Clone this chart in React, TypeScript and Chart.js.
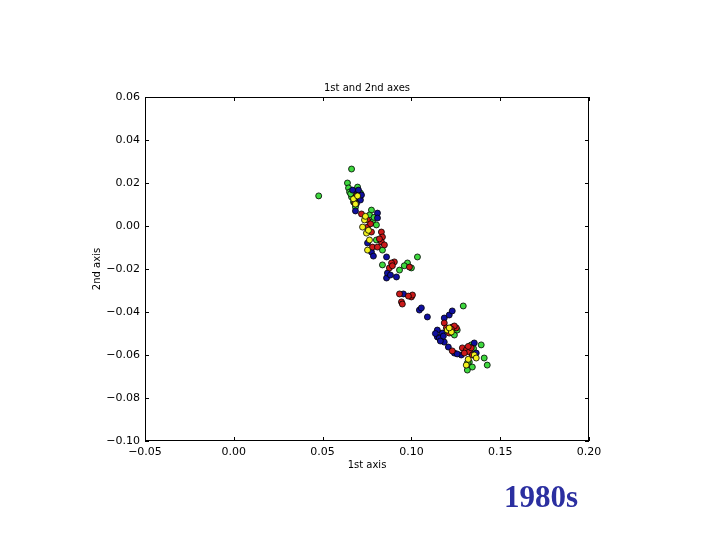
import React, { useEffect, useRef } from "react";
import { Chart, registerables } from "chart.js";

Chart.register(...registerables);

const chartTitle = "1st and 2nd axes";
const xAxisTitle = "1st axis";
const yAxisTitle = "2nd axis";
const decadeLabel = "1980s";

const xMin = -0.05;
const xMax = 0.2;
const xStep = 0.05;
const yMin = -0.1;
const yMax = 0.06;
const yStep = 0.02;

const blueSeries: [number, number][] = [
  [0.0669, 0.0167], [0.0697, 0.0153], [0.0708, 0.013], [0.0713, 0.0121], [0.0685, 0.007],
  [0.0702, 0.0167], [0.0719, 0.0144], [0.0691, 0.0105],
  [0.0809, 0.006], [0.0809, 0.0037], [0.0753, -0.0079], [0.0775, -0.0121], [0.0786, -0.014],
  [0.086, -0.0144], [0.0916, -0.0237], [0.086, -0.0242], [0.0865, -0.0219], [0.0882, -0.0228],
  [0.0955, -0.0316], [0.1045, -0.0391], [0.1056, -0.0381], [0.109, -0.0423], [0.1185, -0.0428],
  [0.1213, -0.0414], [0.123, -0.0395], [0.1146, -0.0516], [0.1157, -0.0521], [0.1174, -0.0498],
  [0.1146, -0.0484], [0.1185, -0.054], [0.1163, -0.0535], [0.118, -0.0512], [0.1135, -0.05],
  [0.1208, -0.0563], [0.1242, -0.0591], [0.1354, -0.0544], [0.1281, -0.06], [0.1365, -0.0591],
  [0.1258, -0.0595],
];

const redSeries: [number, number][] = [
  [0.0691, 0.014], [0.068, 0.0107],
  [0.0719, 0.0056], [0.0753, 0.0028], [0.0753, -0.0005], [0.0775, -0.0028], [0.0831, -0.0028],
  [0.0837, -0.0051], [0.0831, -0.0074], [0.0848, -0.0088], [0.0781, -0.0098], [0.0809, -0.0098],
  [0.082, -0.006], [0.077, 0.001],
  [0.0876, -0.0195], [0.0904, -0.0167], [0.0989, -0.0191], [0.0888, -0.0172], [0.0893, -0.0185],
  [0.0933, -0.0316], [0.1, -0.033], [0.1006, -0.0321], [0.0944, -0.0353], [0.0949, -0.0363],
  [0.0983, -0.0326],
  [0.1185, -0.0451], [0.1197, -0.0474], [0.123, -0.047], [0.1253, -0.0474], [0.1213, -0.0498],
  [0.1242, -0.0465], [0.1225, -0.048],
  [0.123, -0.0581], [0.1287, -0.0567], [0.1309, -0.0577], [0.1326, -0.0586], [0.1298, -0.0591],
  [0.1337, -0.0567], [0.1343, -0.06], [0.132, -0.056],
];

const yellowSeries: [number, number][] = [
  [0.0674, 0.0126], [0.0685, 0.0102], [0.0697, 0.014],
  [0.0736, 0.0028], [0.0725, -0.0005], [0.0747, -0.0033], [0.0764, -0.0065], [0.0753, -0.0112],
  [0.0741, 0.0045], [0.0758, -0.002],
  [0.1202, -0.0484], [0.1225, -0.0493], [0.1213, -0.0474],
  [0.1354, -0.06], [0.1365, -0.0614], [0.1309, -0.0647], [0.132, -0.062],
];

const greenSeries: [number, number][] = [
  [0.0663, 0.0265], [0.0478, 0.014], [0.064, 0.02], [0.0646, 0.0177], [0.0652, 0.0158],
  [0.0663, 0.0135], [0.0674, 0.0112], [0.0685, 0.0088], [0.0713, 0.0153], [0.0697, 0.0181],
  [0.0658, 0.015],
  [0.0775, 0.0074], [0.0764, 0.0051], [0.0781, 0.0019], [0.0803, 0.0005], [0.0803, -0.0065],
  [0.0837, -0.0112], [0.079, 0.004],
  [0.0837, -0.0181], [0.0933, -0.0205], [0.0978, -0.0172], [0.1, -0.0195], [0.1034, -0.0144],
  [0.096, -0.0185],
  [0.1292, -0.0372], [0.1242, -0.0507], [0.1258, -0.0484],
  [0.1337, -0.0553], [0.1393, -0.0553], [0.1326, -0.0633], [0.1315, -0.0637], [0.1343, -0.0656],
  [0.141, -0.0614], [0.1427, -0.0647], [0.1315, -0.067], [0.135, -0.057],
];

const toPoints = (s: [number, number][]) => s.map(([x, y]) => ({ x, y }));
const fmt = (v: number) => Number(v).toFixed(2).replace("-", "\u2212");

const frameTicksPlugin = {
  id: "frameTicks",
  afterDraw(chart: any) {
    const { ctx, chartArea } = chart;
    const { left, right, top, bottom } = chartArea;
    ctx.save();
    ctx.strokeStyle = "#000";
    ctx.lineWidth = 1;
    ctx.strokeRect(left + 0.5, top + 0.5, right - left - 1, bottom - top - 1);
    const xs = chart.scales.x;
    const ys = chart.scales.y;
    ctx.beginPath();
    xs.ticks.forEach((t: any) => {
      const px = Math.round(xs.getPixelForValue(t.value)) + 0.5;
      ctx.moveTo(px, bottom);
      ctx.lineTo(px, bottom - 4);
      ctx.moveTo(px, top);
      ctx.lineTo(px, top + 4);
    });
    ys.ticks.forEach((t: any) => {
      const py = Math.round(ys.getPixelForValue(t.value)) + 0.5;
      ctx.moveTo(left, py);
      ctx.lineTo(left + 4, py);
      ctx.moveTo(right, py);
      ctx.lineTo(right - 4, py);
    });
    ctx.stroke();
    ctx.fillStyle = "#000";
    ctx.font = "10px 'DejaVu Sans'";
    ctx.textAlign = "center";
    ctx.textBaseline = "middle";
    ctx.fillText(chartTitle, (left + right) / 2, top - 9);
    ctx.restore();
  },
};

export default function App() {
  const canvasRef = useRef<HTMLCanvasElement | null>(null);

  useEffect(() => {
    if (!canvasRef.current) return;
    const mk = (label: string, data: [number, number][], color: string) => ({
      label,
      data: toPoints(data),
      backgroundColor: color,
      borderColor: "#000",
      borderWidth: 0.8,
      pointRadius: 3,
      pointHoverRadius: 3,
    });
    const chart = new Chart(canvasRef.current, {
      type: "scatter",
      data: {
        datasets: [
          mk("yellow", yellowSeries, "#f2f21e"),
          mk("red", redSeries, "#cc1a1a"),
          mk("blue", blueSeries, "#1010a0"),
          mk("green", greenSeries, "#3ed83e"),
        ],
      },
      options: {
        responsive: false,
        animation: false,
        events: [],
        layout: { padding: { left: 91, right: 131, top: 97, bottom: 69 } },
        plugins: {
          legend: { display: false },
          title: { display: false },
          tooltip: { enabled: false },
        },
        scales: {
          x: {
            type: "linear",
            min: xMin,
            max: xMax,
            grid: { display: false, drawTicks: false },
            border: { display: false },
            ticks: {
              stepSize: xStep,
              padding: 5,
              color: "#000",
              font: { family: "DejaVu Sans", size: 11 },
              callback: (v: any) => fmt(v),
              maxRotation: 0,
            },
            title: {
              display: true,
              text: xAxisTitle,
              color: "#000",
              font: { family: "DejaVu Sans", size: 10 },
              padding: { top: 0, bottom: 0 },
            },
            afterFit: (s: any) => {
              s.height = 30;
            },
          },
          y: {
            type: "linear",
            min: yMin,
            max: yMax,
            grid: { display: false, drawTicks: false },
            border: { display: false },
            ticks: {
              stepSize: yStep,
              padding: 5,
              color: "#000",
              font: { family: "DejaVu Sans", size: 11 },
              callback: (v: any) => fmt(v),
            },
            title: {
              display: true,
              text: yAxisTitle,
              color: "#000",
              font: { family: "DejaVu Sans", size: 10 },
              padding: { top: 0, bottom: 0 },
            },
            afterFit: (s: any) => {
              s.width = 54;
            },
          },
        },
      },
      plugins: [frameTicksPlugin],
    });
    return () => chart.destroy();
  }, []);

  return (
    <div style={{ position: "absolute", left: 0, top: 0, width: 720, height: 540, background: "#fff" }}>
      <canvas ref={canvasRef} width={720} height={540} style={{ display: "block" }} />
      <div
        style={{
          position: "absolute",
          left: 504,
          top: 479,
          fontFamily: "'Liberation Serif', serif",
          fontWeight: "bold",
          fontSize: 31,
          color: "#2b2fa0",
          lineHeight: "36px",
        }}
      >
        {decadeLabel}
      </div>
    </div>
  );
}
